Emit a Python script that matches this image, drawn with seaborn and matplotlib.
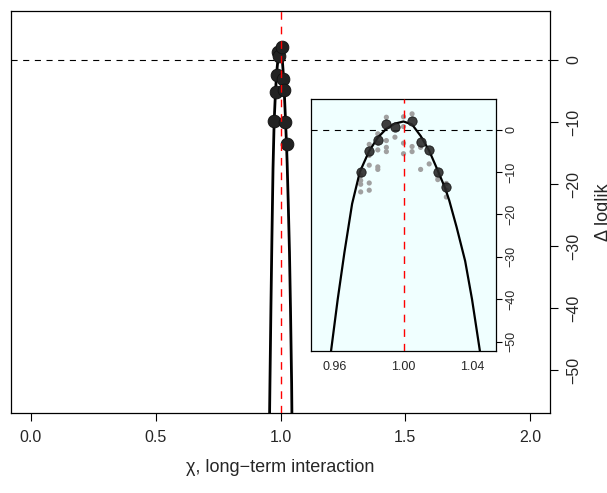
import numpy as np
import pandas as pd
import matplotlib
matplotlib.use("Agg")
import matplotlib.pyplot as plt
import seaborn as sns

# ---- data ----
# profile points (black)
prof_chi = [0.975, 0.980, 0.985, 0.990, 0.995, 1.005, 1.010, 1.015, 1.020, 1.025]
prof_ll = [-9.9, -5.1, -2.4, 1.3, 0.7, 2.1, -3.0, -4.9, -10.0, -13.5]

# replicate points (grey)
rep_chi = [0.990, 1.000, 1.005, 1.000, 0.995, 0.990, 0.990, 0.990, 0.985, 0.985,
           0.985, 0.980, 0.980, 0.980, 0.985, 0.985, 0.975, 0.975, 0.975, 0.980,
           0.980, 0.975, 1.000, 1.000, 1.005, 1.005, 1.010, 1.010, 1.015, 1.020,
           1.020, 1.025, 1.025, 1.025]
rep_ll = [2.9, 3.0, 3.7, 0.7, -1.8, -2.6, -4.2, -5.2, -1.0, -3.2,
          -4.8, -3.5, -6.1, -8.4, -8.8, -9.4, -10.8, -12.0, -12.9, -12.6,
          -14.3, -14.7, -3.2, -5.7, -4.0, -5.2, -4.2, -9.4, -8.1, -11.0,
          -11.8, -12.7, -14.3, -15.9]

# smoothed profile curve
curve_chi = [0.9555, 0.9577, 0.9616, 0.9655, 0.9700, 0.9745, 0.9799, 0.9850,
             0.9900, 0.9950, 1.0000, 1.0050, 1.0100, 1.0150, 1.0193, 1.0243,
             1.0267, 1.0310, 1.0360, 1.0400, 1.0446, 1.0463]
curve_ll = [-59.5, -52.2, -40.0, -29.0, -17.5, -10.0, -5.1, -1.9,
            0.2, 1.4, 1.9, 1.2, -1.5, -5.0, -9.0, -13.8,
            -16.7, -23.0, -31.0, -40.0, -52.2, -59.5]

mle_chi = 1.0
main_xticks = [0.0, 0.5, 1.0, 1.5, 2.0]
main_yticks = [0, -10, -20, -30, -40, -50]
inset_xticks = [0.96, 0.98, 1.00, 1.02, 1.04]
inset_xlabels = ["0.96", "", "1.00", "", "1.04"]
inset_yticks = [0, -10, -20, -30, -40, -50]

prof = pd.DataFrame({"chi": prof_chi, "ll": prof_ll})
rep = pd.DataFrame({"chi": rep_chi, "ll": rep_ll})
curve = pd.DataFrame({"chi": curve_chi, "ll": curve_ll})

sns.set_style("white")
plt.rcParams["font.family"] = ["Liberation Sans", "DejaVu Sans"]

fig = plt.figure(figsize=(6.07, 4.93), dpi=100)
ax = fig.add_axes([11/607, 80/493, 539/607, 402/493])

dash = (0, (5.5, 5))
ax.axhline(0, color="black", lw=0.8, ls=dash, zorder=1)
sns.lineplot(data=curve, x="chi", y="ll", ax=ax, color="black", lw=2.0,
             sort=False, estimator=None, zorder=2)
sns.scatterplot(data=prof, x="chi", y="ll", ax=ax, color="#222222", s=85,
                edgecolor="#111111", linewidth=0.6, zorder=3)
ax.axvline(mle_chi, color="#FF0000", lw=1.0, ls=dash, zorder=5)

ax.set_xlim(-0.08, 2.08)
ax.set_ylim(-56.9, 7.9)
ax.set_xticks(main_xticks)
ax.set_xticklabels([f"{v:.1f}" for v in main_xticks])
ax.set_yticks(main_yticks)
ax.yaxis.tick_right()
ax.tick_params(axis="both", direction="out", length=6, width=0.8, labelsize=11.5,
               color="black", pad=6)
ax.tick_params(axis="y", left=False, right=True, labelleft=False, labelright=True,
               labelrotation=90)
for lab in ax.get_yticklabels():
    lab.set_va("center")
ax.tick_params(axis="x", bottom=True)
for s in ax.spines.values():
    s.set_color("black")
    s.set_linewidth(0.9)
ax.set_xlabel("χ, long−term interaction", fontsize=13, labelpad=10)
ax.set_ylabel("")
fig.text(604/607, 1 - 212/493, "Δ loglik", rotation=90, ha="center", va="center",
         fontsize=13)

# ---- inset ----
ins = fig.add_axes([311/607, 142/493, 185/607, 252/493])
ins.set_facecolor("#F0FFFF")
ins.axhline(0, color="black", lw=0.8, ls=dash, zorder=1)
sns.scatterplot(data=rep, x="chi", y="ll", ax=ins, color="#A0A0A0", s=14,
                edgecolor="none", zorder=2)
sns.lineplot(data=curve, x="chi", y="ll", ax=ins, color="black", lw=1.6,
             sort=False, estimator=None, zorder=3)
sns.scatterplot(data=prof, x="chi", y="ll", ax=ins, color="#2a2a2a", s=45,
                edgecolor="#111111", linewidth=0.6, alpha=0.9, zorder=4)
ins.axvline(mle_chi, color="#FF0000", lw=1.0, ls=dash, zorder=5)
ins.set_xlim(0.946, 1.054)
ins.set_ylim(-52.2, 7.2)
ins.set_xticks(inset_xticks)
ins.set_xticklabels(inset_xlabels)
ins.set_yticks(inset_yticks)
ins.yaxis.tick_right()
ins.tick_params(axis="both", direction="out", length=4, width=0.8, labelsize=9,
                color="black", pad=3)
ins.tick_params(axis="y", left=False, right=True, labelleft=False, labelright=True,
                labelrotation=90)
for lab in ins.get_yticklabels():
    lab.set_va("center")
ins.set_xlabel("")
ins.set_ylabel("")
for s in ins.spines.values():
    s.set_color("black")
    s.set_linewidth(0.9)

fig.savefig("out.png", dpi=100)
